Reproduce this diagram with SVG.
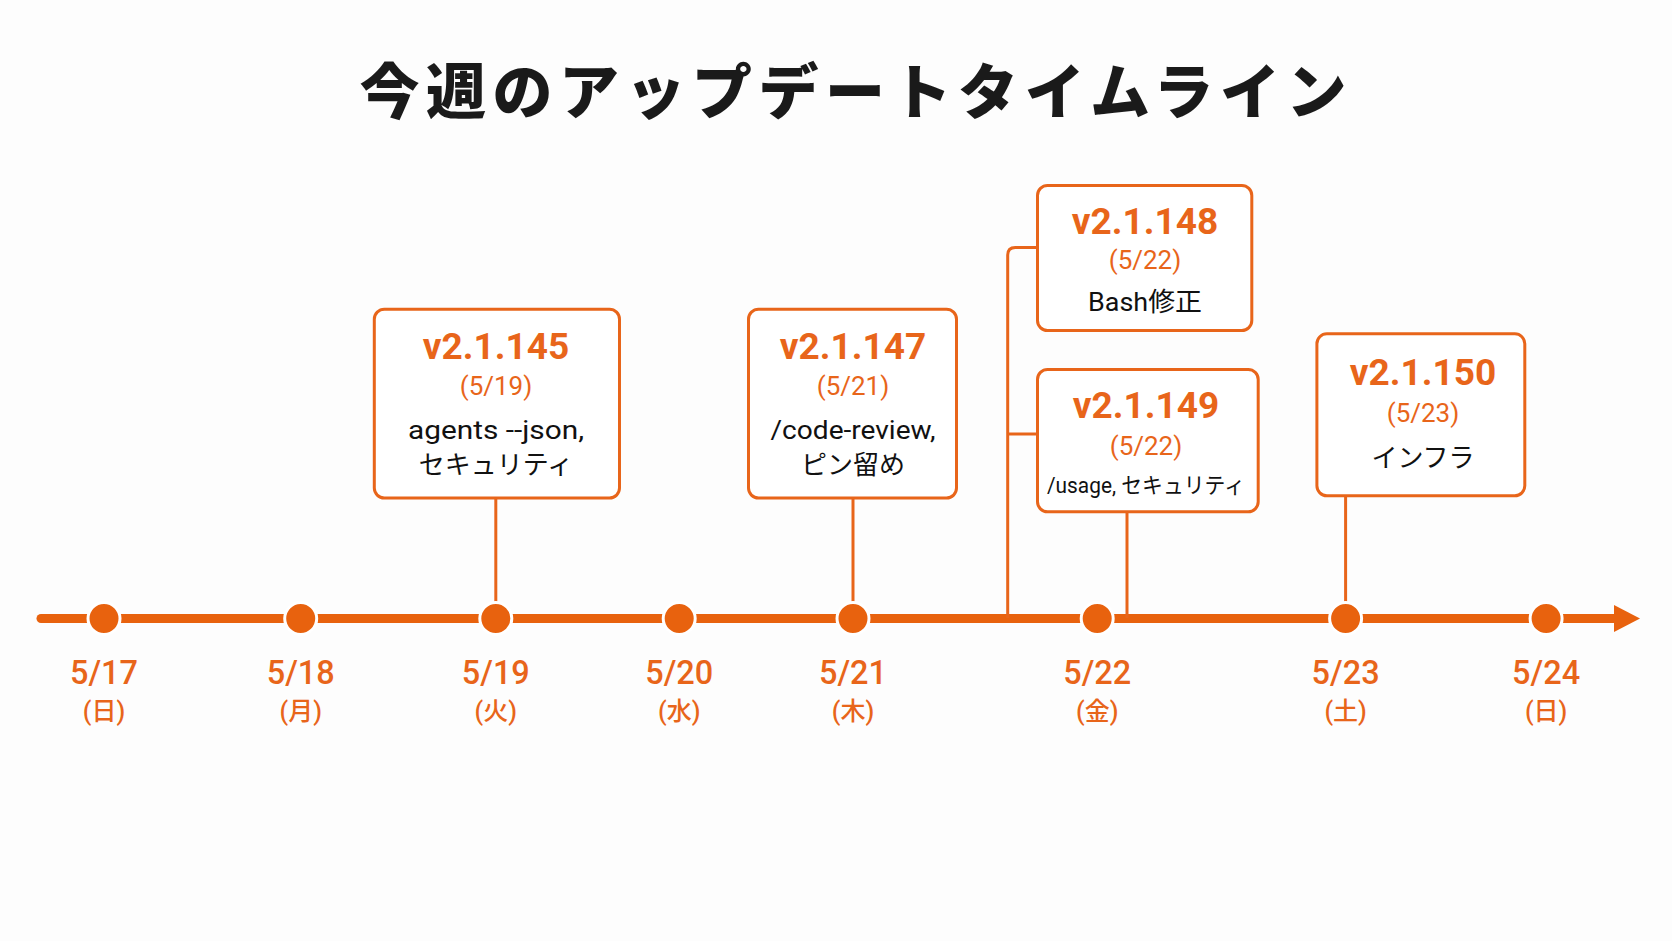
<svg xmlns="http://www.w3.org/2000/svg" width="1672" height="941" viewBox="0 0 1672 941">
<style>
text{font-family:Roboto,"Noto Sans CJK JP",sans-serif;text-anchor:middle;dominant-baseline:central}
.title{font-family:"Noto Sans CJK JP",sans-serif;font-size:60px;font-weight:900;fill:#1a1a1a}
.box{fill:#fff;stroke:#E8651A;stroke-width:3}
.ver{font-size:37px;font-weight:700;fill:#E8651A}
.vd{font-size:26px;font-weight:400;fill:#E8651A}
.desc{font-size:26px;font-weight:400;fill:#111}
.date{font-size:34px;font-weight:500;fill:#E8651A}
.dow{font-size:25px;font-weight:500;fill:#E8651A}
.conn{stroke:#E8651A;stroke-width:3;fill:none}
.dot{fill:#E8620E;stroke:#fff;stroke-width:3}
</style>
<rect width="1672" height="941" fill="#fdfdfd"/>
<text class="title" x="853" y="87" textLength="987" lengthAdjust="spacing">今週のアップデートタイムライン</text>

<g id="connectors">
<line x1="41" y1="618.5" x2="1618" y2="618.5" stroke="#E8620E" stroke-width="9" stroke-linecap="round"/>
<polygon points="1614,605 1640,618.5 1614,632" fill="#E8620E"/>
<line class="conn" x1="495.8" y1="498" x2="495.8" y2="618"/>
<line class="conn" x1="853" y1="498" x2="853" y2="618"/>
<line class="conn" x1="1127" y1="511.8" x2="1127" y2="618"/>
<line class="conn" x1="1345.6" y1="495.8" x2="1345.6" y2="618"/>
<path class="conn" d="M1007.7 618 V255 Q1007.7 247.4 1015.3 247.4 H1037.5"/>
<line class="conn" x1="1007.7" y1="434" x2="1037.5" y2="434"/>
</g>

<g id="dots">
<circle class="dot" cx="104" cy="618.5" r="16"/>
<circle class="dot" cx="300.7" cy="618.5" r="16"/>
<circle class="dot" cx="495.8" cy="618.5" r="16"/>
<circle class="dot" cx="679.2" cy="618.5" r="16"/>
<circle class="dot" cx="853" cy="618.5" r="16"/>
<circle class="dot" cx="1097.2" cy="618.5" r="16"/>
<circle class="dot" cx="1345.6" cy="618.5" r="16"/>
<circle class="dot" cx="1546.1" cy="618.5" r="16"/>
</g>

<g id="dates">
<text class="date" x="104" y="671.5" textLength="68" lengthAdjust="spacingAndGlyphs">5/17</text><text class="dow" x="104" y="711">(日)</text>
<text class="date" x="300.7" y="671.5" textLength="68" lengthAdjust="spacingAndGlyphs">5/18</text><text class="dow" x="300.7" y="711">(月)</text>
<text class="date" x="495.8" y="671.5" textLength="68" lengthAdjust="spacingAndGlyphs">5/19</text><text class="dow" x="495.8" y="711">(火)</text>
<text class="date" x="679.2" y="671.5" textLength="68" lengthAdjust="spacingAndGlyphs">5/20</text><text class="dow" x="679.2" y="711">(水)</text>
<text class="date" x="853" y="671.5" textLength="68" lengthAdjust="spacingAndGlyphs">5/21</text><text class="dow" x="853" y="711">(木)</text>
<text class="date" x="1097.2" y="671.5" textLength="68" lengthAdjust="spacingAndGlyphs">5/22</text><text class="dow" x="1097.2" y="711">(金)</text>
<text class="date" x="1345.6" y="671.5" textLength="68" lengthAdjust="spacingAndGlyphs">5/23</text><text class="dow" x="1345.6" y="711">(土)</text>
<text class="date" x="1546.1" y="671.5" textLength="68" lengthAdjust="spacingAndGlyphs">5/24</text><text class="dow" x="1546.1" y="711">(日)</text>
</g>

<g id="v145">
<rect class="box" x="374.3" y="309.2" width="245.2" height="188.8" rx="10"/>
<text class="ver" x="496" y="346.5">v2.1.145</text>
<text class="vd" x="496" y="386">(5/19)</text>
<text class="desc" x="496" y="429.5" textLength="176" lengthAdjust="spacingAndGlyphs">agents --json,</text>
<text class="desc" x="496" y="465">セキュリティ</text>
</g>

<g id="v147">
<rect class="box" x="748.5" y="309.2" width="208" height="188.8" rx="10"/>
<text class="ver" x="853" y="346.5">v2.1.147</text>
<text class="vd" x="853" y="386">(5/21)</text>
<text class="desc" x="853" y="429.5" textLength="165" lengthAdjust="spacingAndGlyphs">/code-review,</text>
<text class="desc" x="853" y="465">ピン留め</text>
</g>

<g id="v148">
<rect class="box" x="1037.5" y="185.5" width="214.3" height="145.1" rx="10"/>
<text class="ver" x="1145" y="221.5">v2.1.148</text>
<text class="vd" x="1145" y="260">(5/22)</text>
<text class="desc" x="1145" y="301.5" textLength="114" lengthAdjust="spacingAndGlyphs">Bash修正</text>
</g>

<g id="v149">
<rect class="box" x="1037.5" y="369.5" width="220.7" height="142.3" rx="10"/>
<text class="ver" x="1146" y="405.5">v2.1.149</text>
<text class="vd" x="1146" y="445.5">(5/22)</text>
<text class="desc" x="1146" y="485" style="font-size:22px" textLength="198" lengthAdjust="spacingAndGlyphs">/usage, セキュリティ</text>
</g>

<g id="v150">
<rect class="box" x="1316.9" y="333.8" width="207.9" height="162" rx="10"/>
<text class="ver" x="1423" y="372.5">v2.1.150</text>
<text class="vd" x="1423" y="412.5">(5/23)</text>
<text class="desc" x="1423" y="457.5">インフラ</text>
</g>
</svg>
